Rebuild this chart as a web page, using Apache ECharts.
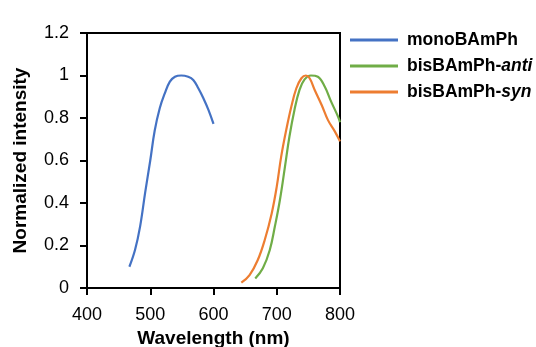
<!DOCTYPE html>
<html>
<head>
<meta charset="utf-8">
<script src="https://cdn.jsdelivr.net/npm/echarts@6/dist/echarts.min.js"></script>
<style>
  html, body { margin: 0; padding: 0; background: #fff; }
  #chart { width: 536px; height: 347px; }
</style>
</head>
<body>
<div id="chart"></div>
<script>
// wavelength (nm), normalized intensity
const monoData = [
  [467, 0.10], [476, 0.18], [484, 0.29], [492, 0.45], [500, 0.60], [507, 0.74],
  [515, 0.846], [523, 0.916], [531, 0.971], [539, 0.994], [549, 1.0], [560, 0.994],
  [568, 0.979], [576, 0.94], [584, 0.893], [592, 0.838], [600, 0.772]
]
const antiData = [
  [666, 0.045], [678, 0.093], [689, 0.179], [697, 0.289], [705, 0.414], [713, 0.571],
  [720, 0.712], [728, 0.838], [736, 0.932], [744, 0.982], [754, 1.0], [765, 0.994],
  [776, 0.947], [786, 0.877], [797, 0.806], [800, 0.78]
]
const synData = [
  [644, 0.025], [657, 0.061], [670, 0.132], [681, 0.226], [692, 0.351], [700, 0.477],
  [707, 0.618], [715, 0.744], [723, 0.853], [731, 0.94], [739, 0.987], [746, 1.0],
  [752, 0.987], [760, 0.932], [771, 0.861], [781, 0.79], [792, 0.736], [800, 0.69]
]
const seriesNames = ['monoBAmPh', 'bisBAmPh-anti', 'bisBAmPh-syn']
const seriesColors = ['#4472C4', '#70AD47', '#ED7D31']

const font = "'Liberation Sans', Arial, sans-serif"
const chart = echarts.init(document.getElementById('chart'), null, { renderer: 'canvas' })

const axisCommon = {
  axisLine: { show: true, lineStyle: { color: '#000', width: 2 } },
  axisTick: { show: true, inside: false, length: 7, lineStyle: { color: '#000', width: 2 } },
  splitLine: { show: false },
}

const option = {
  animation: false,
  backgroundColor: '#fff',
  grid: {
    left: 87, right: 196, top: 33, bottom: 59,
    outerBoundsMode: 'none',
    containLabel: false,
    show: true, borderColor: '#000', borderWidth: 2, backgroundColor: 'transparent',
  },
  legend: {
    orient: 'vertical',
    left: 345,
    top: 26,
    icon: 'rect',
    itemWidth: 48,
    itemHeight: 3,
    itemGap: 8,
    textStyle: {
      fontFamily: font, fontSize: 17.5, fontWeight: 'bold', color: '#000',
      padding: [0, 0, 0, 4],
      rich: {
        b: { fontFamily: font, fontSize: 17.5, fontWeight: 'bold', color: '#000' },
        i: { fontFamily: font, fontSize: 17.5, fontWeight: 'bold', fontStyle: 'italic', color: '#000' },
      },
    },
    formatter: (name) => {
      const parts = name.split('-')
      if (parts.length === 1) return '{b|' + name + '}'
      return '{b|' + parts[0] + '-}{i|' + parts[1] + '}'
    },
    data: seriesNames,
  },
  xAxis: {
    type: 'value',
    min: 400, max: 800, interval: 100,
    name: 'Wavelength (nm)',
    nameLocation: 'middle',
    nameGap: 41,
    nameTextStyle: { fontFamily: font, fontSize: 19, fontWeight: 'bold', color: '#000' },
    axisLabel: { fontFamily: font, fontSize: 18, color: '#000', margin: 18 },
    ...axisCommon,
  },
  yAxis: {
    type: 'value',
    min: 0, max: 1.2, interval: 0.2,
    name: 'Normalized intensity',
    nameLocation: 'middle',
    nameGap: 57,
    nameTextStyle: { fontFamily: font, fontSize: 19, fontWeight: 'bold', color: '#000' },
    axisLabel: { fontFamily: font, fontSize: 18, color: '#000', margin: 18 },
    ...axisCommon,
  },
  series: [monoData, antiData, synData].map((d, i) => ({
    name: seriesNames[i],
    type: 'line',
    data: d,
    showSymbol: false,
    smooth: 0.4,
    color: seriesColors[i],
    lineStyle: { width: 2.2, color: seriesColors[i] },
  })),
}

option && chart.setOption(option)
</script>
</body>
</html>
